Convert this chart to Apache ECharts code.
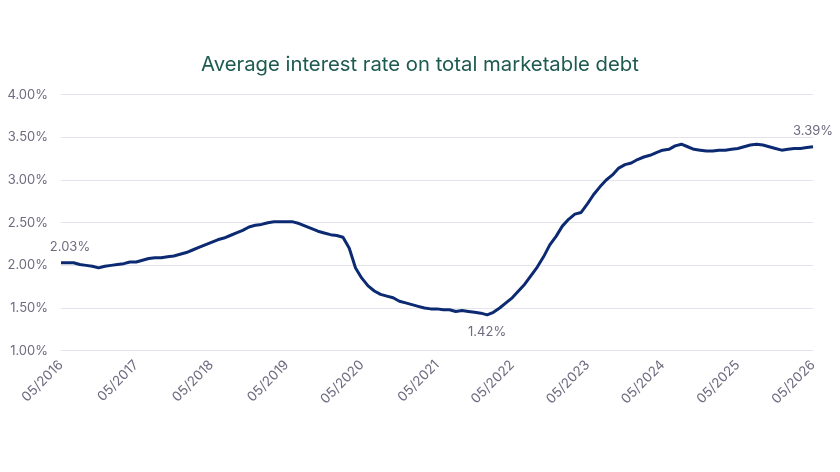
<!DOCTYPE html>
<html>
<head>
<meta charset="utf-8">
<script src="https://cdn.jsdelivr.net/npm/echarts@6/dist/echarts.min.js"></script>
<style>
  html, body { margin: 0; padding: 0; background: #fff; }
  #chart { width: 840px; height: 472px; }
</style>
</head>
<body>
<div id="chart"></div>
<script>
// monthly, 05/2016 .. 05/2026
var startYear = 2016, startMonth = 5;
var rates = [
  2.03, 2.03, 2.03, 2.01, 2.00, 1.99, 1.97, 1.99, 2.00, 2.01, 2.02, 2.04,
  2.04, 2.06, 2.08, 2.09, 2.09, 2.10, 2.11, 2.13, 2.15, 2.18, 2.21, 2.24,
  2.27, 2.30, 2.32, 2.35, 2.38, 2.41, 2.45, 2.47, 2.48, 2.50, 2.51, 2.51,
  2.51, 2.51, 2.49, 2.46, 2.43, 2.40, 2.38, 2.36, 2.35, 2.33, 2.20, 1.97,
  1.85, 1.76, 1.70, 1.66, 1.64, 1.62, 1.58, 1.56, 1.54, 1.52, 1.50, 1.49,
  1.49, 1.48, 1.48, 1.46, 1.47, 1.46, 1.45, 1.44, 1.42, 1.45, 1.50, 1.56,
  1.62, 1.70, 1.78, 1.88, 1.98, 2.10, 2.24, 2.34, 2.46, 2.54, 2.60, 2.62,
  2.72, 2.83, 2.92, 3.00, 3.06, 3.14, 3.18, 3.20, 3.24, 3.27, 3.29, 3.32,
  3.35, 3.36, 3.40, 3.42, 3.39, 3.36, 3.35, 3.34, 3.34, 3.35, 3.35, 3.36,
  3.37, 3.39, 3.41, 3.42, 3.41, 3.39, 3.37, 3.35, 3.36, 3.37, 3.37, 3.38,
  3.39
];
// points that carry a value label
var labelIdx = [0, 68, 120];
var labelPos = ['top', 'bottom', 'top'];
var yTicks = [1.0, 1.5, 2.0, 2.5, 3.0, 3.5, 4.0];

var months = [];
for (var i = 0; i < rates.length; i++) {
  var m = (startMonth - 1 + i) % 12 + 1;
  var y = startYear + Math.floor((startMonth - 1 + i) / 12);
  months.push((m < 10 ? '0' : '') + m + '/' + y);
}

var marks = labelIdx.map(function(idx, k) {
  return {
    coord: [idx, rates[idx]],
    value: rates[idx],
    label: {
      position: labelPos[k],
      distance: labelPos[k] === 'bottom' ? 11 : 9,
      offset: idx === 0 ? [9, 0] : [0, 0]
    }
  };
});

var myChart = echarts.init(document.getElementById('chart'));
var option = {
  animation: false,
  title: {
    text: 'Average interest rate on total marketable debt',
    left: 'center',
    top: 50,
    textStyle: {
      color: '#1d5a50',
      fontSize: 20.3,
      fontWeight: 'normal',
      fontFamily: 'Inter'
    }
  },
  grid: {
    left: 61,
    right: 27,
    top: 94.7,
    bottom: 121.3,
    containLabel: false
  },
  xAxis: {
    type: 'category',
    boundaryGap: false,
    data: months,
    axisLine: { show: false },
    axisTick: { show: false },
    splitLine: { show: false },
    axisLabel: {
      interval: 11,
      rotate: 45,
      margin: 12,
      color: '#6e6b80',
      fontSize: 13.5,
      fontFamily: 'Inter'
    }
  },
  yAxis: {
    type: 'value',
    min: yTicks[0],
    max: yTicks[yTicks.length - 1],
    interval: 0.5,
    axisLine: { show: false },
    axisTick: { show: false },
    splitLine: { lineStyle: { color: '#e4e3ec', width: 1 } },
    axisLabel: {
      margin: 13,
      color: '#6e6b80',
      fontSize: 13,
      fontFamily: 'Inter',
      formatter: function(v) { return v.toFixed(2) + '%'; }
    }
  },
  series: [{
    type: 'line',
    data: rates,
    showSymbol: false,
    symbol: 'none',
    smooth: false,
    lineStyle: { color: '#0c2a72', width: 3 },
    itemStyle: { color: '#0c2a72' },
    markPoint: {
      symbol: 'circle',
      symbolSize: 0,
      silent: true,
      label: {
        show: true,
        color: '#6e6b80',
        fontSize: 13,
        fontFamily: 'Inter',
        formatter: function(p) { return p.value.toFixed(2) + '%'; }
      },
      data: marks
    }
  }]
};
myChart.setOption(option);
</script>
</body>
</html>
